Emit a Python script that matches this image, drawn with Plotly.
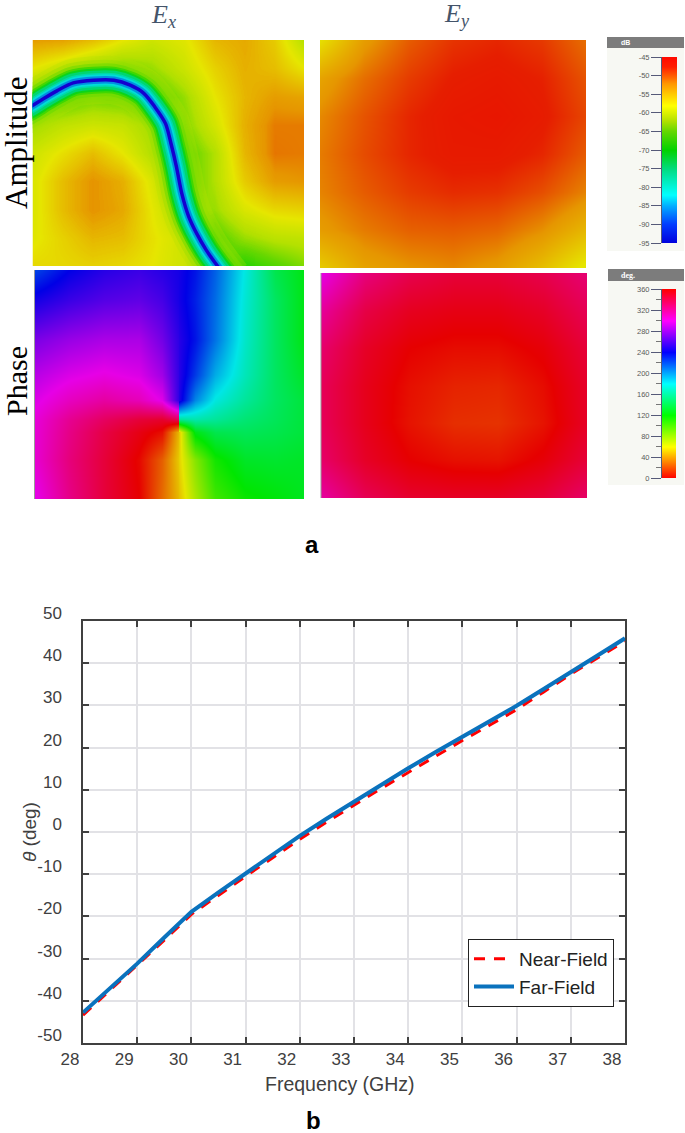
"""
Near-field amplitude / phase maps (a) and beam angle against frequency (b).
"""
import plotly.graph_objects as go

W, H = 685, 1133

# ── Panel a: amplitude maps (dB) ──────────────────────────────────────────────

ex_amp_x = [0, 0.11, 0.22, 0.33, 0.44, 0.56, 0.67, 0.78, 0.89, 1]
ex_amp_y = [0, 0.125, 0.25, 0.375, 0.5, 0.625, 0.75, 0.875, 1]
ex_amp_db = [
    [-52.5, -53, -55, -58, -60, -58.5, -54.5, -53.5, -56, -62],
    [-58, -60.5, -63, -64.5, -63, -60, -56.5, -54, -55, -58],
    [-66, -66, -64.5, -65, -67, -63, -58, -54.5, -52.5, -53],
    [-63, -61, -60, -60.5, -63, -64, -59.5, -54, -51, -51],
    [-60, -57.5, -55, -58, -62, -66, -62, -54.5, -50.8, -51],
    [-59, -55, -52, -54, -59, -66, -62, -56, -52.5, -52],
    [-59, -55, -52, -53.5, -58, -63, -63, -59, -57, -56.5],
    [-58.5, -56.5, -54.5, -55, -57.5, -60, -66, -63, -61.5, -61],
    [-57, -57, -56.5, -57, -58, -60, -65, -68, -66, -64],
]

# the deep null running through Ex
null_x = [-0.06, 0, 0.04, 0.09, 0.15, 0.225, 0.30, 0.36, 0.41, 0.45, 0.49, 0.51, 0.53, 0.55, 0.575, 0.605, 0.64, 0.68, 0.72]
null_y = [0.33, 0.29, 0.26, 0.225, 0.19, 0.178, 0.178, 0.2, 0.236, 0.295, 0.37, 0.458, 0.56, 0.68, 0.78, 0.857, 0.93, 0.998, 1.06]
null_widths = [48, 40, 33, 27, 23, 19, 14, 11, 7.5, 3.5]
null_colors = ["#b4e000", "#90de00", "#60da00", "#20d600", "#00d420", "#00d670", "#00d8a8", "#00dcd8", "#0090e0", "#1400d0"]
null_alpha = [0.3, 0.35, 0.45, 0.6, 0.8, 1, 1, 1, 1, 1]

ey_amp_x = [0, 0.167, 0.333, 0.5, 0.667, 0.833, 1]
ey_amp_y = [0, 0.167, 0.333, 0.5, 0.667, 0.833, 1]
ey_amp_db = [
    [-57.5, -52.5, -49.8, -48.3, -47.8, -48.5, -50.5],
    [-53, -50.5, -48.6, -47.4, -47, -47.6, -49.5],
    [-51.5, -49.5, -47.8, -46.8, -46.5, -47.2, -49],
    [-51, -49.2, -47.8, -47, -47, -47.8, -49.8],
    [-51.3, -49.8, -48.6, -48, -48.2, -49.3, -51.3],
    [-52.5, -51, -50, -49.8, -50.2, -51.8, -54.5],
    [-56, -53, -52, -51.5, -52.5, -55, -58.5],
]

# ── Panel a: phase maps (deg) ─────────────────────────────────────────────────
# Ex is held in two halves which meet at the singular point, so the wrap
# never gets smeared. Left half runs past 360 (hue carries on through red).

ex_ph_y = [0, 0.131, 0.306, 0.459, 0.568, 0.651, 0.708, 0.830, 1]
ex_ph_left_x = [0, 0.24, 0.48, 0.72, 0.88, 1]
ex_ph_left = [
    [222, 240, 250, 255, 250, 245],
    [245, 255, 262, 265, 258, 245],
    [272, 280, 285, 285, 270, 250],
    [288, 297, 302, 297, 282, 250],
    [297, 310, 318, 312, 298, 248],
    [303, 322, 335, 345, 348, 335],
    [304, 325, 342, 355, 364, 412],
    [305, 328, 345, 362, 385, 415],
    [298, 325, 345, 360, 388, 410],
]
ex_ph_right_x = [0, 0.125, 0.287, 0.529, 0.77, 1]
ex_ph_right = [
    [245, 235, 215, 178, 140, 125],
    [245, 232, 212, 175, 145, 125],
    [250, 235, 210, 172, 145, 125],
    [250, 225, 195, 168, 145, 130],
    [248, 205, 178, 160, 145, 135],
    [160, 165, 160, 150, 143, 135],
    [52, 125, 140, 143, 140, 135],
    [55, 85, 115, 130, 132, 130],
    [50, 75, 103, 117, 122, 128],
]

ey_ph_x = [0, 0.167, 0.333, 0.5, 0.667, 0.833, 1]
ey_ph_y = [0, 0.167, 0.333, 0.5, 0.667, 0.833, 1]
ey_ph = [
    [300, 328, 340, 345, 345, 340, 330],
    [320, 342, 352, 355, 355, 350, 338],
    [332, 350, 360, 363, 363, 358, 345],
    [337, 353, 364, 369, 370, 363, 349],
    [337, 353, 365, 372, 373, 365, 350],
    [333, 350, 360, 364, 365, 358, 345],
    [318, 338, 348, 350, 350, 345, 333],
]

# ── Colour bars ───────────────────────────────────────────────────────────────

db_levels = [-95, -90, -85, -80, -75, -70, -65, -60, -55, -50, -45]
deg_levels = [0, 40, 80, 120, 160, 200, 240, 280, 320, 360]
deg_minor = [20, 60, 100, 140, 180, 220, 260, 300, 340]

DB_SCALE = [
    [0, "rgb(0,0,220)"], [0.1, "rgb(0,60,230)"], [0.2, "rgb(0,170,230)"],
    [0.26, "rgb(0,230,230)"], [0.4, "rgb(0,220,130)"], [0.5, "rgb(0,210,0)"],
    [0.6, "rgb(100,215,0)"], [0.66, "rgb(180,225,0)"], [0.74, "rgb(230,230,0)"],
    [0.86, "rgb(230,150,0)"], [0.95, "rgb(230,30,0)"], [1, "rgb(235,10,0)"],
]
hues = ["230,0,0", "230,230,0", "0,230,0", "0,230,230", "0,0,230", "230,0,230", "230,0,0", "230,230,0"]
PHASE_SCALE = [[i / 7, f"rgb({c})"] for i, c in enumerate(hues)]  # 0 to 420 deg

# ── Panel b: steering angle ───────────────────────────────────────────────────

freq = [28, 28.5, 29, 29.5, 30, 30.5, 31, 31.5, 32, 32.5, 33, 33.5, 34, 34.5, 35, 35.5, 36, 36.5, 37, 37.5, 38]
far_field = [-42.8, -37.0, -31.2, -25.0, -18.9, -14.3, -9.9, -5.4, -0.9, 3.2, 7.2, 11.2, 15.1, 18.9, 22.6, 26.2,
             29.9, 33.9, 38.0, 41.9, 45.9]
near_field = [-43.4, -37.5, -31.6, -25.6, -19.5, -14.9, -10.5, -6.1, -1.7, 2.4, 6.4, 10.3, 14.1, 18.0, 21.7, 25.3,
              29.0, 33.2, 37.4, 41.3, 45.2]
x_ticks = [28, 29, 30, 31, 32, 33, 34, 35, 36, 37, 38]
y_ticks = [-50, -40, -30, -20, -10, 0, 10, 20, 30, 40, 50]
y_tick_text = ["-50", "-40", "-30", "-20", "-10", "0", "10", "20", "30", "40", "50"]


def dom_x(a, b):
    return [a / W, b / W]


def dom_y(top, bottom):
    return [1 - bottom / H, 1 - top / H]


fig = go.Figure()
axes = {}
n_axes = 0


def add_map(x, y, z, box, colorscale, zmin, zmax):
    """One heatmap on its own pair of hidden axes; box is left/right/top/bottom in px."""
    global n_axes
    n_axes += 1
    s = "" if n_axes == 1 else str(n_axes)
    fig.add_trace(go.Heatmap(
        x=x, y=y, z=z, xaxis=f"x{s}", yaxis=f"y{s}", zsmooth="best",
        colorscale=colorscale, zmin=zmin, zmax=zmax, showscale=False, hoverinfo="skip",
    ))
    axes[f"xaxis{s}"] = dict(domain=dom_x(box[0], box[1]), range=[x[0], x[-1]], visible=False, anchor=f"y{s}")
    axes[f"yaxis{s}"] = dict(domain=dom_y(box[2], box[3]), range=[y[-1], y[0]], visible=False, anchor=f"x{s}")


def add_bar(levels, box, colorscale, zmin, zmax, minor=None):
    """Colour bar drawn as a narrow heatmap, with its ticks on a real axis."""
    global n_axes
    n_axes += 1
    s = str(n_axes)
    fig.add_trace(go.Heatmap(
        x=[0, 1], y=levels, z=[[v, v] for v in levels], xaxis=f"x{s}", yaxis=f"y{s}", zsmooth="best",
        colorscale=colorscale, zmin=zmin, zmax=zmax, showscale=False, hoverinfo="skip",
    ))
    axes[f"xaxis{s}"] = dict(domain=dom_x(box[0], box[1]), range=[0, 1], visible=False, anchor=f"y{s}")
    yax = dict(
        domain=dom_y(box[2], box[3]), range=[levels[0], levels[-1]], anchor=f"x{s}", automargin=False,
        tickvals=levels, ticktext=[str(v) for v in levels], ticks="outside", ticklen=10, tickwidth=1,
        tickcolor="#555a78", tickfont=dict(family="Liberation Sans", size=7.5, color="#5a5a5a"),
        showgrid=False, zeroline=False, showline=True, linecolor="#555a78", linewidth=1,
    )
    if minor:
        yax["minor"] = dict(tickvals=minor, ticks="outside", ticklen=5, tickwidth=1, tickcolor="#777777")
    axes[f"yaxis{s}"] = yax


# maps
add_map(ex_amp_x, ex_amp_y, ex_amp_db, (32.5, 304, 40, 266), DB_SCALE, -95, -45)
for width, color, alpha in zip(null_widths, null_colors, null_alpha):
    fig.add_trace(go.Scatter(
        x=null_x, y=null_y, mode="lines", xaxis="x", yaxis="y", showlegend=False, hoverinfo="skip",
        line=dict(color=color, width=width, shape="spline", smoothing=0.8), opacity=alpha,
    ))
add_map(ey_amp_x, ey_amp_y, ey_amp_db, (320, 586, 40, 268), DB_SCALE, -95, -45)
add_map(ex_ph_left_x, ex_ph_y, ex_ph_left, (34, 180, 270, 499), PHASE_SCALE, 0, 420)
add_map(ex_ph_right_x, ex_ph_y, ex_ph_right, (179, 304, 270, 499), PHASE_SCALE, 0, 420)
add_map(ey_ph_x, ey_ph_y, ey_ph, (321, 587, 273, 498), PHASE_SCALE, 0, 420)

# colour bars
bright_db = [[p, c.replace("230", "255").replace("235", "255")] for p, c in DB_SCALE]
bright_ph = [[p / (6 / 7), c.replace("230", "255")] for p, c in PHASE_SCALE[:7]]
add_bar(db_levels, (662, 677, 57, 243), bright_db, -95, -45)
add_bar(deg_levels, (662, 676, 289, 478), bright_ph, 0, 360, minor=deg_minor)

# line chart
n_axes += 1
s = str(n_axes)
fig.add_trace(go.Scatter(
    x=freq, y=near_field, name="Near-Field", mode="lines", xaxis=f"x{s}", yaxis=f"y{s}",
    line=dict(color="#ff0000", width=3, dash="11px,9px"),
))
fig.add_trace(go.Scatter(
    x=freq, y=far_field, name="Far-Field", mode="lines", xaxis=f"x{s}", yaxis=f"y{s}",
    line=dict(color="#0a72bd", width=4),
))
axis_style = dict(
    automargin=False, showgrid=True, gridcolor="#e2e2e6", gridwidth=1.5, zeroline=False,
    showline=True, linecolor="#404040", linewidth=1.5, mirror="ticks",
    ticks="inside", ticklen=6, tickwidth=1.5, tickcolor="#404040",
    tickfont=dict(family="Liberation Sans", size=17, color="#404040"),
)
axes[f"xaxis{s}"] = dict(
    axis_style, domain=dom_x(83, 625), range=[28, 38], tickvals=x_ticks, anchor=f"y{s}", ticklabelshift=-13,
)
axes[f"yaxis{s}"] = dict(
    axis_style, domain=dom_y(621, 1043), range=[-50, 50], tickvals=y_ticks, ticktext=y_tick_text, anchor=f"x{s}",
    ticklabelshift=-8, ticklabelstandoff=16,
)

# side panels behind the colour bars
shapes = []
for left, top, bottom, head in [(607, 37, 251, 48), (608, 269, 485, 281)]:
    shapes.append(dict(type="rect", xref="paper", yref="paper", x0=left / W, x1=684 / W, y0=1 - bottom / H,
                       y1=1 - top / H, fillcolor="#f7f8f3", line_width=0, layer="below"))
    shapes.append(dict(type="rect", xref="paper", yref="paper", x0=left / W, x1=684 / W, y0=1 - head / H,
                       y1=1 - top / H, fillcolor="#7c7c7c", line_width=0, layer="below"))
# grey left edges of the phase screenshots
for left, top, bottom in [(34.5, 270, 499), (321, 273, 498)]:
    shapes.append(dict(type="line", xref="paper", yref="paper", x0=left / W, x1=left / W, y0=1 - bottom / H,
                       y1=1 - top / H, line=dict(color="#9a9a9a", width=1)))


def label(text, x, y, size, family="Liberation Sans", color="black", angle=0, weight="normal"):
    return dict(text=text, x=x / W, y=1 - y / H, xref="paper", yref="paper", showarrow=False, textangle=angle,
                xanchor="center", yanchor="middle", font=dict(family=family, size=size, color=color, weight=weight))


annotations = [
    label("<i>E</i><sub><i>x</i></sub>", 163, 16, 26, "Liberation Serif", "#44546a"),
    label("<i>E</i><sub><i>y</i></sub>", 457, 15, 26, "Liberation Serif", "#44546a"),
    label("Amplitude", 17, 143, 31, "Liberation Serif", angle=-90),
    label("Phase", 16, 381, 30, "Liberation Serif", angle=-90),
    label("dB", 625, 43, 7, color="white", weight="bold"),
    label("deg.", 628, 275, 8, "Liberation Serif", "white", weight="bold"),
    label("a", 312, 545, 24, weight="bold"),
    label("b", 313, 1120, 24, weight="bold"),
    label("Frequency (GHz)", 340, 1084, 19.5, color="#404040"),
    label("<i>θ</i> (deg)", 29, 832, 19, color="#404040", angle=-90),
]

fig.update_layout(
    width=W, height=H, margin=dict(l=0, r=0, t=0, b=0), paper_bgcolor="white", plot_bgcolor="white",
    shapes=shapes, annotations=annotations,
    legend=dict(
        x=468 / W, y=1 - 939 / H, xanchor="left", yanchor="top", bgcolor="white",
        bordercolor="#222222", borderwidth=1, font=dict(family="Liberation Sans", size=19, color="#222222"),
        itemwidth=40,
    ),
    **axes,
)
fig.update_traces(showlegend=False, selector=dict(type="heatmap"))

fig.write_html("out.html", config={"displayModeBar": False}, post_script="document.body.style.margin='0';")
